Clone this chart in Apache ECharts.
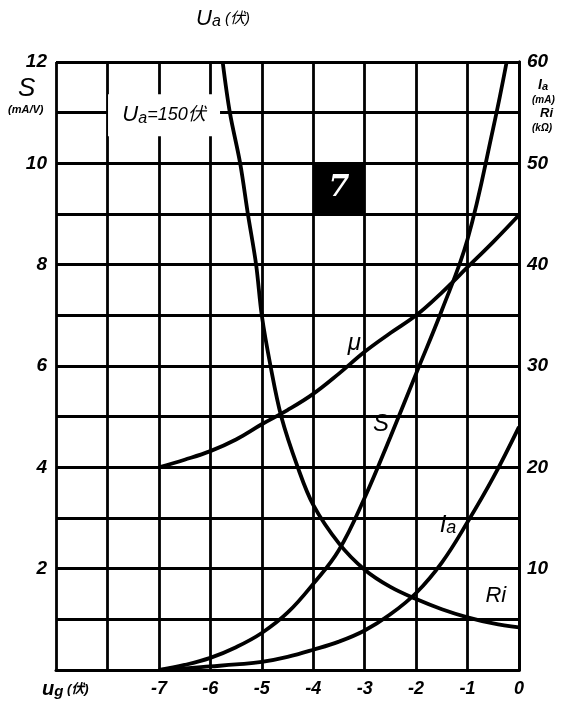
<!DOCTYPE html>
<html><head><meta charset="utf-8">
<script src="https://cdn.jsdelivr.net/npm/echarts@6/dist/echarts.min.js"></script>
<style>html,body{margin:0;padding:0;background:#fff}#c{width:576px;height:706px}</style>
</head><body><div id="c"></div>
<script>
// Data (x = grid voltage Ug in V)
const ugTicks = [-7,-6,-5,-4,-3,-2,-1,0];
const muX = [-7,-6.5,-6,-5.5,-5,-4.5,-4,-3.5,-3,-2.5,-2,-1.5,-1,-0.5,0];
const muValues = [4.0,4.15,4.32,4.55,4.85,5.13,5.45,5.85,6.28,6.65,7.0,7.45,7.95,8.45,8.98];
const sX = [-7,-6.5,-6,-5.5,-5,-4.5,-4,-3.5,-3,-2.5,-2,-1.5,-1,-0.5,-0.24];
const sValues = [0,0.1,0.24,0.45,0.73,1.13,1.7,2.37,3.4,4.6,5.85,7.1,8.5,10.7,12];
const iaX = [-7,-6.5,-6,-5.5,-5,-4.5,-4,-3.5,-3,-2.5,-2,-1.5,-1,-0.5,0];
const iaValues = [0,0.15,0.35,0.55,0.8,1.3,2.0,2.8,3.9,5.5,7.6,10.6,14.6,19.0,24.0];
const riX = [-5.76,-5.62,-5.42,-5.27,-5.11,-5.0,-4.83,-4.62,-4.3,-4.0,-3.5,-3,-2.5,-2,-1.5,-1,-0.5,0];
const riValues = [60,55,50,45,40,35,30,25,20,16.3,12.5,9.9,8.2,7.0,6.0,5.2,4.6,4.2];
const leftLabels = [2,4,6,8,10,12];
const rightLabels = [10,20,30,40,50,60];

const pair = (xs, ys) => xs.map((x,i)=>[x, ys[i]]);
const F = "'Liberation Sans Narrow','Liberation Sans','Noto Sans CJK SC',sans-serif";
const lbl = {fontFamily:F, fontStyle:'italic', fontWeight:'bold', color:'#000'};
const line = {color:'#000', width:3.8};

const chart = echarts.init(document.getElementById('c'), null, {renderer:'canvas'});
chart.setOption({
  animation:false,
  backgroundColor:'#fff',
  grid:{left:56, right:57, top:62, bottom:36},
  xAxis:{type:'value', min:-9, max:0, interval:1,
    axisLine:{show:true, lineStyle:{color:'#000', width:3}},
    axisTick:{show:false},
    splitLine:{show:true, lineStyle:{color:'#000', width:2.8}},
    axisLabel:{...lbl, fontSize:18, margin:10,
      formatter:v => ugTicks.indexOf(v)>=0 ? (v===0?'0':'-'+Math.abs(v)) : ''}
  },
  yAxis:[
    {type:'value', min:0, max:12, interval:1, position:'left',
     axisLine:{show:true, lineStyle:{color:'#000', width:3}},
     axisTick:{show:false},
     splitLine:{show:true, lineStyle:{color:'#000', width:2.8}},
     axisLabel:{...lbl, fontSize:19, margin:9,
       formatter:v => leftLabels.indexOf(v)>=0 ? String(v) : ''}},
    {type:'value', min:0, max:60, interval:5, position:'right',
     axisLine:{show:true, lineStyle:{color:'#000', width:3}},
     axisTick:{show:false}, splitLine:{show:false},
     axisLabel:{...lbl, fontSize:19, margin:8,
       formatter:v => rightLabels.indexOf(v)>=0 ? String(v) : ''}}
  ],
  series:[
    {type:'line', name:'mu', yAxisIndex:0, data:pair(muX,muValues), smooth:0.4,
     showSymbol:false, symbol:'none', lineStyle:line, z:5,
     markArea:{silent:true, itemStyle:{color:'#000'},
       label:{show:true, position:'inside', color:'#fff', fontFamily:"'DejaVu Serif',serif",
         fontStyle:'italic', fontWeight:'bold', fontSize:30},
       data:[[{xAxis:-4, yAxis:10, name:'7'},{xAxis:-3, yAxis:9}]]},
     markPoint:{symbol:'circle', symbolSize:0, silent:true,
       label:{show:true, ...lbl, fontWeight:'normal', fontSize:24, formatter:'{b}'},
       data:[{name:'μ', coord:[-3.2,6.45]}]}},
    {type:'line', name:'S', yAxisIndex:0, data:pair(sX,sValues), smooth:0.4,
     showSymbol:false, symbol:'none', lineStyle:line, z:5,
     markPoint:{symbol:'circle', symbolSize:0, silent:true,
       label:{show:true, ...lbl, fontWeight:'normal', fontSize:24, formatter:'{b}'},
       data:[{name:'S', coord:[-2.68,4.85]}]}},
    {type:'line', name:'Ia', yAxisIndex:1, data:pair(iaX,iaValues), smooth:0.4,
     showSymbol:false, symbol:'none', lineStyle:line, z:5,
     markPoint:{symbol:'circle', symbolSize:0, silent:true,
       label:{show:true, ...lbl, fontWeight:'normal', fontSize:22,
         formatter:'{a|I}{b|a}', rich:{a:{...lbl, fontWeight:'normal', fontSize:24}, b:{...lbl, fontWeight:'normal', fontSize:18, padding:[6,0,0,0]}}},
       data:[{name:'Ia', coord:[-1.38,14.3]}]}},
    {type:'line', name:'Ri', yAxisIndex:1, data:pair(riX,riValues), smooth:0.35,
     showSymbol:false, symbol:'none', lineStyle:line, z:5,
     markPoint:{symbol:'circle', symbolSize:0, silent:true,
       label:{show:true, ...lbl, fontWeight:'normal', fontSize:22, formatter:'Ri'},
       data:[{name:'Ri', coord:[-0.45,7.3]}]}},
    {type:'line', name:'note', yAxisIndex:0, data:[], symbol:'none',
     markPoint:{symbol:'rect', symbolSize:[112,42], silent:true, itemStyle:{color:'#fff'},
       label:{show:true, ...lbl, fontWeight:'normal', fontSize:20, color:'#000',
         formatter:'{u|U}{s|a}{t|=150伏}',
         rich:{u:{...lbl, fontWeight:'normal', fontSize:22}, s:{...lbl, fontWeight:'normal', fontSize:16, padding:[6,0,0,0]}, t:{...lbl, fontWeight:'normal', fontSize:18}}},
       data:[{name:'ua', coord:[-6.9,10.95]}]}, z:6}
  ],
  graphic:[
    {type:'text', left:196, top:8, style:{text:'{u|U}{s|a}{t| (伏)}', rich:{u:{...lbl, fontWeight:'normal', fontSize:22}, s:{...lbl, fontWeight:'normal', fontSize:16, padding:[6,0,0,0]}, t:{...lbl, fontWeight:'normal', fontSize:15}}}},
    {type:'text', left:18, top:76, style:{text:'S', ...lbl, fontWeight:'normal', fontSize:26}},
    {type:'text', left:8, top:104, style:{text:'(mA/V)', ...lbl, fontSize:11}},
    {type:'text', left:538, top:78, style:{text:'{u|I}{s|a}', rich:{u:{...lbl, fontSize:14}, s:{...lbl, fontSize:11, padding:[3,0,0,0]}}}},
    {type:'text', left:532, top:95, style:{text:'(mA)', ...lbl, fontSize:10}},
    {type:'text', left:540, top:107, style:{text:'Ri', ...lbl, fontSize:13}},
    {type:'text', left:532, top:123, style:{text:'(kΩ)', ...lbl, fontSize:10}},
    {type:'text', left:42, top:679, style:{text:'{u|u}{s|g}{t| (伏)}', rich:{u:{...lbl, fontSize:20}, s:{...lbl, fontSize:15, padding:[5,0,0,0]}, t:{...lbl, fontSize:13}}}}
  ]
});
</script></body></html>
